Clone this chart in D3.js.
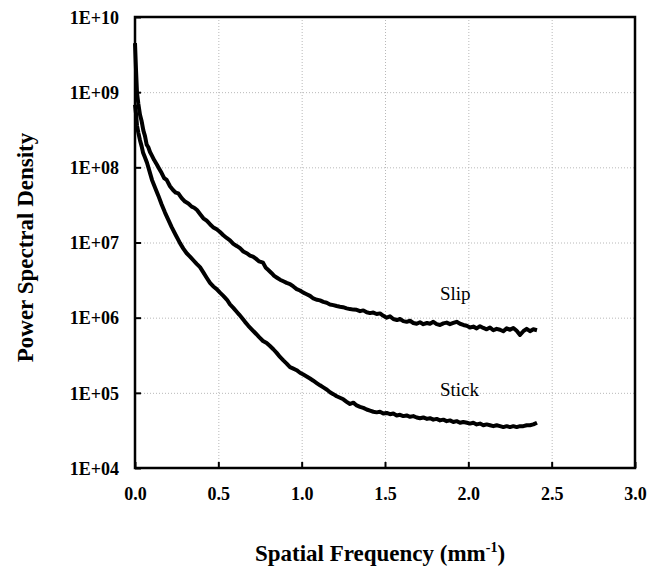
<!DOCTYPE html>
<head>
<meta charset="utf-8">
<title>Power spectral density</title>
<style>
  body { margin: 0; background: #fff; }
  .tick text { font-family: "Liberation Serif", "Times New Roman", serif; font-weight: bold; font-size: 18px; fill: #000; }
  .grid line { stroke: #b8b8b8; stroke-width: 1; stroke-dasharray: 1,2; }
  .grid path { display: none; }
</style>
</head>
<body>
<script src="https://d3js.org/d3.v7.min.js"></script>
<script>
    // spatial frequency (mm^-1) and PSD
    const slipFreq = [0, 0.006, 0.012, 0.02, 0.03, 0.04, 0.05, 0.06, 0.07, 0.08, 0.09, 0.10, 0.115, 0.13, 0.145, 0.16, 0.175, 0.19, 0.21, 0.228, 0.245, 0.26, 0.28, 0.30, 0.32, 0.34, 0.355, 0.372, 0.39, 0.41, 0.43, 0.45, 0.468, 0.49, 0.51, 0.53, 0.55, 0.57, 0.59, 0.61, 0.63, 0.65, 0.67, 0.69, 0.708, 0.725, 0.745, 0.768, 0.785, 0.80, 0.82, 0.835, 0.852, 0.87, 0.89, 0.91, 0.93, 0.95, 0.97, 0.99, 1.01, 1.03, 1.05, 1.07, 1.092, 1.11, 1.13, 1.15, 1.17, 1.19, 1.21, 1.23, 1.248, 1.27, 1.29, 1.31, 1.33, 1.35, 1.37, 1.39, 1.41, 1.43, 1.45, 1.47, 1.49, 1.51, 1.53, 1.55, 1.572, 1.59, 1.61, 1.63, 1.65, 1.67, 1.69, 1.71, 1.73, 1.752, 1.77, 1.79, 1.81, 1.83, 1.85, 1.87, 1.89, 1.91, 1.93, 1.95, 1.97, 1.99, 2.01, 2.03, 2.05, 2.07, 2.09, 2.11, 2.13, 2.15, 2.17, 2.19, 2.21, 2.23, 2.25, 2.27, 2.29, 2.31, 2.33, 2.35, 2.37, 2.39, 2.412];
    const slipPsd  = [4.5e9, 2.0e9, 9.8e8, 7.0e8, 5.0e8, 4.1e8, 3.1e8, 2.6e8, 2.0e8, 1.85e8, 1.6e8, 1.45e8, 1.25e8, 1.1e8, 9.6e7, 8.4e7, 7.2e7, 6.8e7, 5.6e7, 5.0e7, 4.6e7, 4.5e7, 3.9e7, 3.5e7, 3.3e7, 3.0e7, 2.9e7, 2.7e7, 2.4e7, 2.1e7, 1.95e7, 1.75e7, 1.6e7, 1.5e7, 1.38e7, 1.25e7, 1.15e7, 1.07e7, 9.6e6, 9.0e6, 8.4e6, 7.6e6, 7.2e6, 6.7e6, 6.5e6, 6.1e6, 5.6e6, 5.4e6, 4.6e6, 4.3e6, 3.9e6, 3.6e6, 3.4e6, 3.2e6, 3.05e6, 2.9e6, 2.8e6, 2.6e6, 2.4e6, 2.3e6, 2.15e6, 2.05e6, 1.95e6, 1.8e6, 1.73e6, 1.7e6, 1.62e6, 1.58e6, 1.5e6, 1.47e6, 1.43e6, 1.4e6, 1.38e6, 1.33e6, 1.3e6, 1.28e6, 1.27e6, 1.22e6, 1.25e6, 1.18e6, 1.15e6, 1.17e6, 1.12e6, 1.14e6, 1.06e6, 1.0e6, 1.04e6, 9.6e5, 9.3e5, 9.6e5, 9.0e5, 8.8e5, 9.1e5, 8.5e5, 8.3e5, 8.7e5, 8.2e5, 8.5e5, 8.3e5, 8.8e5, 8.2e5, 8.0e5, 8.4e5, 8.6e5, 8.2e5, 8.5e5, 8.8e5, 8.3e5, 8.0e5, 7.8e5, 7.4e5, 7.6e5, 7.2e5, 7.7e5, 7.3e5, 7.0e5, 7.4e5, 6.8e5, 7.1e5, 6.9e5, 6.6e5, 7.2e5, 6.9e5, 7.3e5, 6.7e5, 5.9e5, 6.6e5, 7.1e5, 6.6e5, 7.0e5, 6.8e5];

    const stickFreq = [0, 0.006, 0.012, 0.02, 0.03, 0.04, 0.048, 0.06, 0.072, 0.085, 0.102, 0.12, 0.14, 0.16, 0.18, 0.20, 0.22, 0.245, 0.27, 0.29, 0.31, 0.33, 0.35, 0.37, 0.39, 0.41, 0.43, 0.45, 0.47, 0.49, 0.51, 0.53, 0.552, 0.57, 0.59, 0.61, 0.625, 0.642, 0.66, 0.68, 0.70, 0.72, 0.745, 0.768, 0.79, 0.81, 0.83, 0.85, 0.87, 0.89, 0.91, 0.93, 0.95, 0.97, 0.99, 1.01, 1.03, 1.05, 1.07, 1.09, 1.11, 1.13, 1.152, 1.17, 1.19, 1.21, 1.23, 1.25, 1.27, 1.29, 1.31, 1.33, 1.35, 1.37, 1.39, 1.41, 1.43, 1.45, 1.47, 1.49, 1.51, 1.53, 1.55, 1.57, 1.59, 1.61, 1.63, 1.65, 1.67, 1.69, 1.71, 1.73, 1.752, 1.77, 1.79, 1.81, 1.83, 1.85, 1.87, 1.89, 1.91, 1.93, 1.95, 1.97, 1.992, 2.01, 2.03, 2.05, 2.07, 2.09, 2.11, 2.13, 2.15, 2.17, 2.19, 2.21, 2.23, 2.25, 2.27, 2.29, 2.31, 2.33, 2.35, 2.37, 2.39, 2.412];
    const stickPsd  = [6.8e8, 5.2e8, 3.6e8, 2.9e8, 2.3e8, 1.9e8, 1.58e8, 1.35e8, 1.15e8, 9.2e7, 6.8e7, 5.4e7, 4.2e7, 3.2e7, 2.5e7, 2.0e7, 1.6e7, 1.25e7, 9.8e6, 8.3e6, 7.2e6, 6.5e6, 5.8e6, 5.2e6, 4.7e6, 4.0e6, 3.4e6, 2.9e6, 2.6e6, 2.4e6, 2.15e6, 1.95e6, 1.73e6, 1.5e6, 1.35e6, 1.2e6, 1.1e6, 9.9e5, 8.8e5, 7.8e5, 7.0e5, 6.3e5, 5.5e5, 4.9e5, 4.6e5, 4.2e5, 3.8e5, 3.4e5, 3.0e5, 2.7e5, 2.45e5, 2.2e5, 2.1e5, 2.0e5, 1.85e5, 1.75e5, 1.65e5, 1.55e5, 1.45e5, 1.35e5, 1.26e5, 1.18e5, 1.1e5, 1.02e5, 9.6e4, 9.0e4, 8.6e4, 8.2e4, 7.6e4, 7.1e4, 7.4e4, 6.8e4, 6.5e4, 6.3e4, 6.0e4, 5.8e4, 5.6e4, 5.5e4, 5.6e4, 5.3e4, 5.4e4, 5.2e4, 5.3e4, 5.0e4, 5.1e4, 4.9e4, 5.0e4, 4.8e4, 4.9e4, 4.7e4, 4.6e4, 4.7e4, 4.5e4, 4.6e4, 4.4e4, 4.5e4, 4.3e4, 4.4e4, 4.2e4, 4.3e4, 4.1e4, 4.2e4, 4.0e4, 4.1e4, 4.0e4, 3.9e4, 4.0e4, 3.8e4, 3.9e4, 3.7e4, 3.8e4, 3.7e4, 3.6e4, 3.7e4, 3.6e4, 3.5e4, 3.6e4, 3.5e4, 3.6e4, 3.5e4, 3.6e4, 3.6e4, 3.7e4, 3.7e4, 3.8e4, 4.0e4];

    const xTicks = [0, 0.5, 1.0, 1.5, 2.0, 2.5, 3.0];
    const yTicks = [1e4, 1e5, 1e6, 1e7, 1e8, 1e9, 1e10];
    const yTickLabels = ['1E+04', '1E+05', '1E+06', '1E+07', '1E+08', '1E+09', '1E+10'];

    const margin = {top: 17, right: 22, bottom: 101, left: 135};
    const width = 657 - margin.left - margin.right;
    const height = 569 - margin.top - margin.bottom;

    const x = d3.scaleLinear().domain([0, 3]).range([0, width]);
    const y = d3.scaleLog().domain([1e4, 1e10]).range([height, 0]);

    const svg = d3.select('body').append('svg')
        .attr('width', 657)
        .attr('height', 569)
        .append('g')
        .attr('transform', 'translate(' + margin.left + ',' + margin.top + ')');

    // gridlines
    svg.append('g')
        .attr('class', 'grid')
        .call(d3.axisLeft(y).tickValues(yTicks.slice(1, -1)).tickSize(-width).tickFormat(''));
    svg.append('g')
        .attr('class', 'grid')
        .attr('transform', 'translate(0,' + height + ')')
        .call(d3.axisBottom(x).tickValues(xTicks.slice(1, -1)).tickSize(-height).tickFormat(''));

    // axes with inward ticks
    const yAxis = svg.append('g')
        .call(d3.axisLeft(y).tickValues(yTicks).tickFormat((d, i) => yTickLabels[i]).tickSizeInner(-6).tickSizeOuter(0).tickPadding(16));
    yAxis.select('.domain').remove();
    yAxis.selectAll('.tick line').attr('stroke', '#000').attr('stroke-width', 2);
    yAxis.selectAll('.tick text').attr('dy', '0.35em');

    const xAxis = svg.append('g')
        .attr('transform', 'translate(0,' + height + ')')
        .call(d3.axisBottom(x).tickValues(xTicks).tickFormat(d3.format('.1f')).tickSizeInner(-6).tickSizeOuter(0).tickPadding(19));
    xAxis.select('.domain').remove();
    xAxis.selectAll('.tick line').attr('stroke', '#000').attr('stroke-width', 2);

    // frame
    svg.append('rect')
        .attr('width', width)
        .attr('height', height)
        .attr('fill', 'none')
        .attr('stroke', '#000')
        .attr('stroke-width', 2.5);

    const line = d3.line()
        .x(d => x(d[0]))
        .y(d => y(d[1]));

    const series = [
        {name: 'Slip', pts: d3.zip(slipFreq, slipPsd), lx: 1.83, ly: 1.7e6},
        {name: 'Stick', pts: d3.zip(stickFreq, stickPsd), lx: 1.83, ly: 9.0e4}
    ];

    svg.selectAll('.curve')
        .data(series)
        .enter().append('path')
        .attr('class', 'curve')
        .attr('d', d => line(d.pts))
        .attr('fill', 'none')
        .attr('stroke', '#000')
        .attr('stroke-width', 4)
        .attr('stroke-linejoin', 'round');

    svg.selectAll('.lbl')
        .data(series)
        .enter().append('text')
        .attr('class', 'lbl')
        .attr('x', d => x(d.lx))
        .attr('y', d => y(d.ly))
        .attr('font-family', '"Liberation Serif", "Times New Roman", serif')
        .attr('font-size', 19)
        .text(d => d.name);

    // axis titles
    svg.append('text')
        .attr('transform', 'translate(' + (33 - margin.left) + ',' + (height / 2 + 5) + ') rotate(-90)')
        .attr('text-anchor', 'middle')
        .attr('font-family', '"Liberation Serif", "Times New Roman", serif')
        .attr('font-weight', 'bold')
        .attr('font-size', 23)
        .text('Power Spectral Density');

    const xt = svg.append('text')
        .attr('x', width / 2 - 5)
        .attr('y', height + 93)
        .attr('text-anchor', 'middle')
        .attr('font-family', '"Liberation Serif", "Times New Roman", serif')
        .attr('font-weight', 'bold')
        .attr('font-size', 23);
    xt.append('tspan').text('Spatial Frequency (mm');
    xt.append('tspan').attr('dy', -9).attr('font-size', 14).text('-1');
    xt.append('tspan').attr('dy', 9).text(')');
</script>
</body>
